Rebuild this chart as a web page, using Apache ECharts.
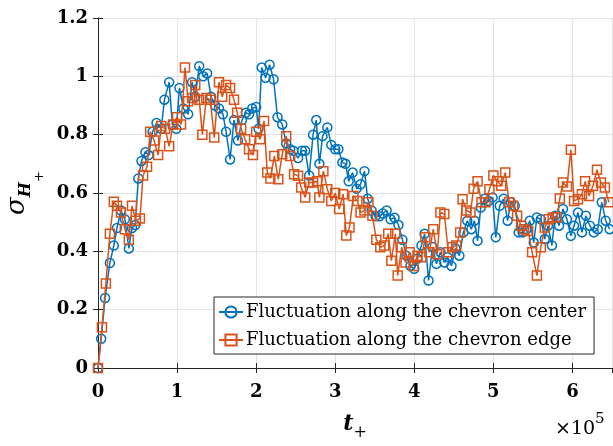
<!DOCTYPE html>
<html>
<head>
<meta charset="utf-8">
<script src="https://cdn.jsdelivr.net/npm/echarts@6/dist/echarts.min.js"></script>
<style>html,body{margin:0;padding:0;background:#fff;}#c{width:613px;height:446px;}</style>
</head>
<body>
<div id="c"></div>
<script>
// Time (×10^5) and values
const centerT = [0,0.04,0.09,0.15,0.20,0.24,0.29,0.34,0.39,0.43,
0.47,0.51,0.55,0.60,0.64,0.69,0.74,0.80,0.84,0.90,
0.94,0.99,1.03,1.08,1.14,1.19,1.23,1.28,1.33,1.38,
1.43,1.48,1.53,1.58,1.62,1.67,1.72,1.77,1.82,1.87,
1.91,1.95,2.00,2.03,2.07,2.12,2.17,2.22,2.27,2.33,
2.38,2.43,2.47,2.53,2.58,2.62,2.67,2.72,2.76,2.80,
2.84,2.90,2.95,3.00,3.04,3.09,3.13,3.17,3.22,3.27,
3.32,3.37,3.41,3.46,3.51,3.56,3.60,3.65,3.70,3.75,
3.80,3.85,3.90,3.95,4.00,4.04,4.09,4.13,4.18,4.23,
4.28,4.33,4.38,4.42,4.47,4.52,4.57,4.62,4.67,4.72,
4.76,4.80,4.84,4.89,4.94,4.99,5.03,5.08,5.13,5.18,
5.22,5.27,5.32,5.37,5.42,5.46,5.51,5.55,5.60,5.65,
5.69,5.74,5.78,5.83,5.88,5.93,5.98,6.02,6.07,6.12,
6.17,6.22,6.27,6.32,6.37,6.42,6.47];
const centerV = [0,0.10,0.24,0.36,0.42,0.48,0.54,0.51,0.41,0.48,
0.49,0.65,0.71,0.74,0.73,0.81,0.84,0.82,0.92,0.98,
0.835,0.82,0.96,0.89,0.87,0.98,0.93,1.035,1.0,1.01,
0.93,0.90,0.89,0.87,0.81,0.715,0.85,0.78,0.85,0.875,
0.87,0.89,0.895,0.82,1.03,0.995,1.04,0.99,0.86,0.835,
0.77,0.75,0.745,0.72,0.745,0.745,0.66,0.80,0.85,0.70,
0.795,0.825,0.765,0.75,0.75,0.705,0.70,0.64,0.67,0.615,
0.63,0.675,0.58,0.54,0.52,0.52,0.53,0.54,0.51,0.515,
0.49,0.44,0.385,0.35,0.34,0.375,0.42,0.46,0.30,0.415,
0.357,0.397,0.362,0.38,0.35,0.41,0.385,0.465,0.505,0.476,
0.505,0.436,0.55,0.58,0.573,0.585,0.448,0.556,0.58,0.505,
0.568,0.556,0.465,0.465,0.476,0.505,0.43,0.516,0.51,0.442,
0.488,0.42,0.522,0.488,0.545,0.51,0.453,0.488,0.533,0.465,
0.522,0.488,0.465,0.476,0.568,0.505,0.476];
const edgeT = [0,0.05,0.10,0.15,0.20,0.24,0.29,0.34,0.39,0.43,
0.48,0.53,0.57,0.62,0.66,0.71,0.76,0.80,0.85,0.90,
0.95,1.00,1.05,1.10,1.14,1.19,1.23,1.28,1.32,1.37,
1.42,1.47,1.53,1.57,1.62,1.67,1.72,1.76,1.81,1.86,
1.91,1.96,2.00,2.05,2.10,2.14,2.18,2.23,2.28,2.33,
2.38,2.43,2.48,2.53,2.57,2.62,2.67,2.72,2.77,2.80,
2.85,2.90,2.95,3.00,3.05,3.10,3.14,3.18,3.23,3.28,
3.32,3.37,3.42,3.47,3.52,3.57,3.62,3.67,3.71,3.76,
3.79,3.84,3.89,3.94,3.99,4.04,4.09,4.14,4.19,4.24,
4.29,4.33,4.38,4.43,4.48,4.53,4.58,4.61,4.66,4.71,
4.75,4.80,4.85,4.90,4.95,5.00,5.05,5.10,5.15,5.20,
5.25,5.30,5.35,5.39,5.44,5.49,5.55,5.60,5.65,5.70,
5.75,5.80,5.84,5.88,5.93,5.98,6.02,6.07,6.12,6.16,
6.21,6.26,6.31,6.36,6.41,6.46];
const edgeV = [0,0.14,0.29,0.46,0.57,0.556,0.533,0.476,0.44,0.556,
0.505,0.513,0.66,0.69,0.81,0.78,0.73,0.83,0.82,0.76,
0.835,0.86,0.835,1.03,0.915,0.926,0.97,0.92,0.80,0.926,
0.92,0.79,0.98,0.93,0.97,0.96,0.92,0.875,0.82,0.784,
0.75,0.73,0.81,0.784,0.847,0.67,0.65,0.727,0.647,0.733,
0.795,0.727,0.664,0.659,0.619,0.585,0.636,0.636,0.64,0.585,
0.675,0.613,0.573,0.60,0.545,0.596,0.454,0.482,0.59,0.573,
0.533,0.54,0.568,0.522,0.44,0.414,0.42,0.46,0.368,0.46,
0.317,0.414,0.362,0.397,0.35,0.385,0.38,0.448,0.397,0.476,
0.39,0.533,0.528,0.397,0.414,0.42,0.465,0.579,0.54,0.533,
0.615,0.64,0.568,0.568,0.613,0.66,0.64,0.625,0.67,0.568,
0.556,0.522,0.488,0.476,0.47,0.397,0.317,0.414,0.482,0.51,
0.516,0.516,0.581,0.636,0.622,0.748,0.573,0.579,0.596,0.64,
0.59,0.625,0.68,0.636,0.619,0.568];
const seriesNames = ['Fluctuation along the chevron center','Fluctuation along the chevron edge'];
const xTicks = [0,1,2,3,4,5,6];
const yTicks = [0,0.2,0.4,0.6,0.8,1,1.2];

const BLUE = '#0072BD', ORANGE = '#D95319', AX = '#262626';
const SERIF = "'DejaVu Serif', 'Liberation Serif', serif";
const zip = (a, b) => a.map((t, i) => [t, b[i]]);

const chart = echarts.init(document.getElementById('c'), null, {renderer: 'canvas'});
const tickLbl = {fontFamily: SERIF, fontWeight: 'bold', fontSize: 18, color: '#000'};
chart.setOption({
  animation: false,
  backgroundColor: '#fff',
  grid: {left: 98, right: 1, top: 18, bottom: 78, containLabel: false, outerBoundsMode: 'none'},
  legend: {
    orient: 'vertical', left: 214, top: 297,
    padding: [6, 8, 5, 4], itemGap: 10, itemWidth: 24, itemHeight: 14,
    backgroundColor: '#fff', borderColor: AX, borderWidth: 1,
    textStyle: {fontFamily: SERIF, fontSize: 18, color: '#000', padding: [0, 0, 0, -2]},
    data: seriesNames
  },
  xAxis: [{
    type: 'value', min: 0, max: 6.5, interval: 1,
    axisLine: {show: true, lineStyle: {color: AX, width: 1}},
    axisTick: {show: true, inside: true, length: 5, lineStyle: {color: AX}},
    axisLabel: {...tickLbl, margin: 15, showMaxLabel: false,
      formatter: v => xTicks.includes(v) ? String(v) : ''},
    splitLine: {show: true, lineStyle: {color: '#e3e3e3', width: 1}},
    name: '{t|t}{p|+}', nameLocation: 'middle', nameGap: 45,
    nameTextStyle: {rich: {
      t: {fontFamily: SERIF, fontStyle: 'italic', fontWeight: 'bold', fontSize: 22, color: '#000', verticalAlign: 'bottom', padding: [0, 0, 6, 0]},
      p: {fontFamily: SERIF, fontSize: 16, color: '#000', verticalAlign: 'bottom'}
    }}
  }, {
    type: 'value', position: 'top', min: 0, max: 6.5, interval: 1,
    axisLine: {show: true, lineStyle: {color: AX, width: 1}},
    axisTick: {show: true, inside: true, length: 5, lineStyle: {color: AX}},
    axisLabel: {show: false}, splitLine: {show: false}
  }],
  yAxis: [{
    type: 'value', min: 0, max: 1.2, interval: 0.2,
    axisLine: {show: true, lineStyle: {color: AX, width: 1}},
    axisTick: {show: true, inside: true, length: 5, lineStyle: {color: AX}},
    axisLabel: {...tickLbl, margin: 10,
      formatter: v => String(yTicks.find(t => Math.abs(t - v) < 1e-9) ?? '')},
    splitLine: {show: true, lineStyle: {color: '#e3e3e3', width: 1}},
    name: '{s|σ}{h|H}{p|+}', nameLocation: 'middle', nameGap: 49,
    nameTextStyle: {rich: {
      s: {fontFamily: SERIF, fontStyle: 'italic', fontSize: 26, color: '#000', verticalAlign: 'bottom', padding: [0, 0, 16, 0]},
      h: {fontFamily: SERIF, fontStyle: 'italic', fontWeight: 'bold', fontSize: 16, color: '#000', verticalAlign: 'bottom', padding: [0, 0, 12, 0]},
      p: {fontFamily: SERIF, fontSize: 13, color: '#000', verticalAlign: 'bottom'}
    }}
  }, {
    type: 'value', position: 'right', min: 0, max: 1.2, interval: 0.2,
    axisLine: {show: true, lineStyle: {color: AX, width: 1}},
    axisTick: {show: true, inside: true, length: 5, lineStyle: {color: AX}},
    axisLabel: {show: false}, splitLine: {show: false}
  }],
  series: [{
    name: seriesNames[0], type: 'line', data: zip(centerT, centerV),
    symbol: 'circle', symbolSize: 9, clip: true, z: 2,
    lineStyle: {color: BLUE, width: 1.5},
    itemStyle: {color: 'rgba(255,255,255,0)', borderColor: BLUE, borderWidth: 1.5}
  }, {
    name: seriesNames[1], type: 'line', data: zip(edgeT, edgeV),
    symbol: 'rect', symbolSize: 9, clip: true, z: 3,
    lineStyle: {color: ORANGE, width: 1.5},
    itemStyle: {color: 'rgba(255,255,255,0)', borderColor: ORANGE, borderWidth: 1.5}
  }],
  graphic: [{
    type: 'text', left: 555, top: 412, z: 10,
    style: {text: '{a|×10}{b|5}', rich: {
      a: {fontFamily: SERIF, fontSize: 19, fill: '#000', verticalAlign: 'bottom'},
      b: {fontFamily: SERIF, fontSize: 15, fill: '#000', verticalAlign: 'bottom', padding: [0, 0, 12, 0]}
    }}
  }]
});
</script>
</body>
</html>
